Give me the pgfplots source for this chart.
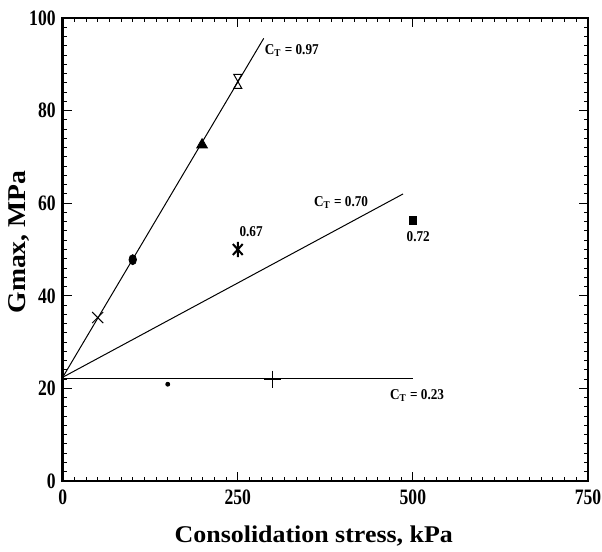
\documentclass[border=0pt]{standalone}
\usepackage{fontspec}
\setmainfont{Liberation Serif}
\newfontfamily\tickfont[FakeStretch=0.8]{Liberation Serif}
\newfontfamily\labfont[FakeStretch=1.08]{Liberation Serif}
\newfontfamily\annfont[FakeStretch=0.88]{Liberation Serif}
\usepackage{pgfplots}
\pgfplotsset{compat=1.18}

% hourglass: open triangle down on top of open triangle up
\pgfdeclareplotmark{hourglass}{%
  \pgfpathmoveto{\pgfqpoint{-0.57\pgfplotmarksize}{\pgfplotmarksize}}%
  \pgfpathlineto{\pgfqpoint{0.57\pgfplotmarksize}{\pgfplotmarksize}}%
  \pgfpathlineto{\pgfqpoint{-0.57\pgfplotmarksize}{-\pgfplotmarksize}}%
  \pgfpathlineto{\pgfqpoint{0.57\pgfplotmarksize}{-\pgfplotmarksize}}%
  \pgfpathclose
  \pgfusepathqstroke}
% star: vertical bar with an x through it
\pgfdeclareplotmark{vstar}{%
  \pgfpathmoveto{\pgfqpoint{0pt}{-\pgfplotmarksize}}%
  \pgfpathlineto{\pgfqpoint{0pt}{\pgfplotmarksize}}%
  \pgfpathmoveto{\pgfqpoint{-0.65\pgfplotmarksize}{-0.72\pgfplotmarksize}}%
  \pgfpathlineto{\pgfqpoint{0.65\pgfplotmarksize}{0.72\pgfplotmarksize}}%
  \pgfpathmoveto{\pgfqpoint{-0.65\pgfplotmarksize}{0.72\pgfplotmarksize}}%
  \pgfpathlineto{\pgfqpoint{0.65\pgfplotmarksize}{-0.72\pgfplotmarksize}}%
  \pgfusepathqstroke}

\newcommand{\ann}{\annfont\bfseries\fontsize{7.5}{8}\selectfont}

\begin{document}
\begin{tikzpicture}
\begin{axis}[
    scale only axis,
    width=262.65pt,
    height=231.5pt,
    xmin=0, xmax=750,
    ymin=0, ymax=100,
    xtick={0,250,500,750},
    ytick={0,20,40,60,80,100},
    minor x tick num=14,
    minor y tick num=9,
    major tick length=4.5pt,
    minor tick length=2pt,
    tick style={black, line width=0.5pt},
    axis line style={line width=1.2pt},
    clip=false,
    /pgf/number format/assume math mode=true,
    tick label style={font=\tickfont\bfseries\fontsize{11}{11}\selectfont},
    xticklabel style={yshift=-1pt},
    xlabel={Consolidation stress, kPa},
    ylabel={Gmax, MPa},
    xlabel style={font=\labfont\bfseries\fontsize{12}{14}\selectfont,
        at={(axis description cs:0.478,-0.132)}, anchor=base},
    ylabel style={font=\labfont\bfseries\fontsize{12.8}{14}\selectfont,
        at={(axis description cs:-0.084,0.516)}, anchor=center},
]
% fitted lines
\addplot[no marks, line width=0.5pt] coordinates {(0,22.4) (287,95.6)};
\addplot[no marks, line width=0.5pt] coordinates {(0,22.4) (486,62)};
\addplot[no marks, line width=0.5pt] coordinates {(0,22.1) (500,22.1)};

% measured points
\addplot[only marks, mark=x, mark size=3.9pt, line width=0.5pt] coordinates {(50,35.3)};
\addplot[only marks, mark=*, mark size=2.5pt, mark options={xscale=0.75}] coordinates {(100,47.8)};
\addplot[only marks, mark=triangle*, mark size=3.1pt] coordinates {(199,72.6)};
\addplot[only marks, mark=hourglass, mark size=3.5pt, line width=0.5pt] coordinates {(250,86.3)};
\addplot[only marks, mark=vstar, mark size=3.8pt, line width=1pt] coordinates {(250,50)};
\addplot[only marks, mark=square*, mark size=1.9pt] coordinates {(500,56.3)};
\addplot[only marks, mark=*, mark size=1pt] coordinates {(150,20.9)};
\addplot[only marks, mark=+, mark size=4.25pt, line width=0.5pt] coordinates {(300,22)};

\node[anchor=west, inner sep=0pt, font=\ann] at (axis cs:288,93) {C\textsubscript{T} = 0.97};
\node[inner sep=0pt, font=\ann] at (axis cs:397.5,60.2) {C\textsubscript{T} = 0.70};
\node[inner sep=0pt, font=\ann] at (axis cs:269,53.9) {0.67};
\node[inner sep=0pt, font=\ann] at (axis cs:507.6,52.8) {0.72};
\node[inner sep=0pt, font=\ann] at (axis cs:506,18.5) {C\textsubscript{T} = 0.23};

\coordinate (ax) at (rel axis cs:0,0);
\end{axis}
\pgfresetboundingbox
\path[use as bounding box] (ax) ++(-31.35pt,-35.5pt) rectangle ++(301pt,276pt);
\end{tikzpicture}
\end{document}
